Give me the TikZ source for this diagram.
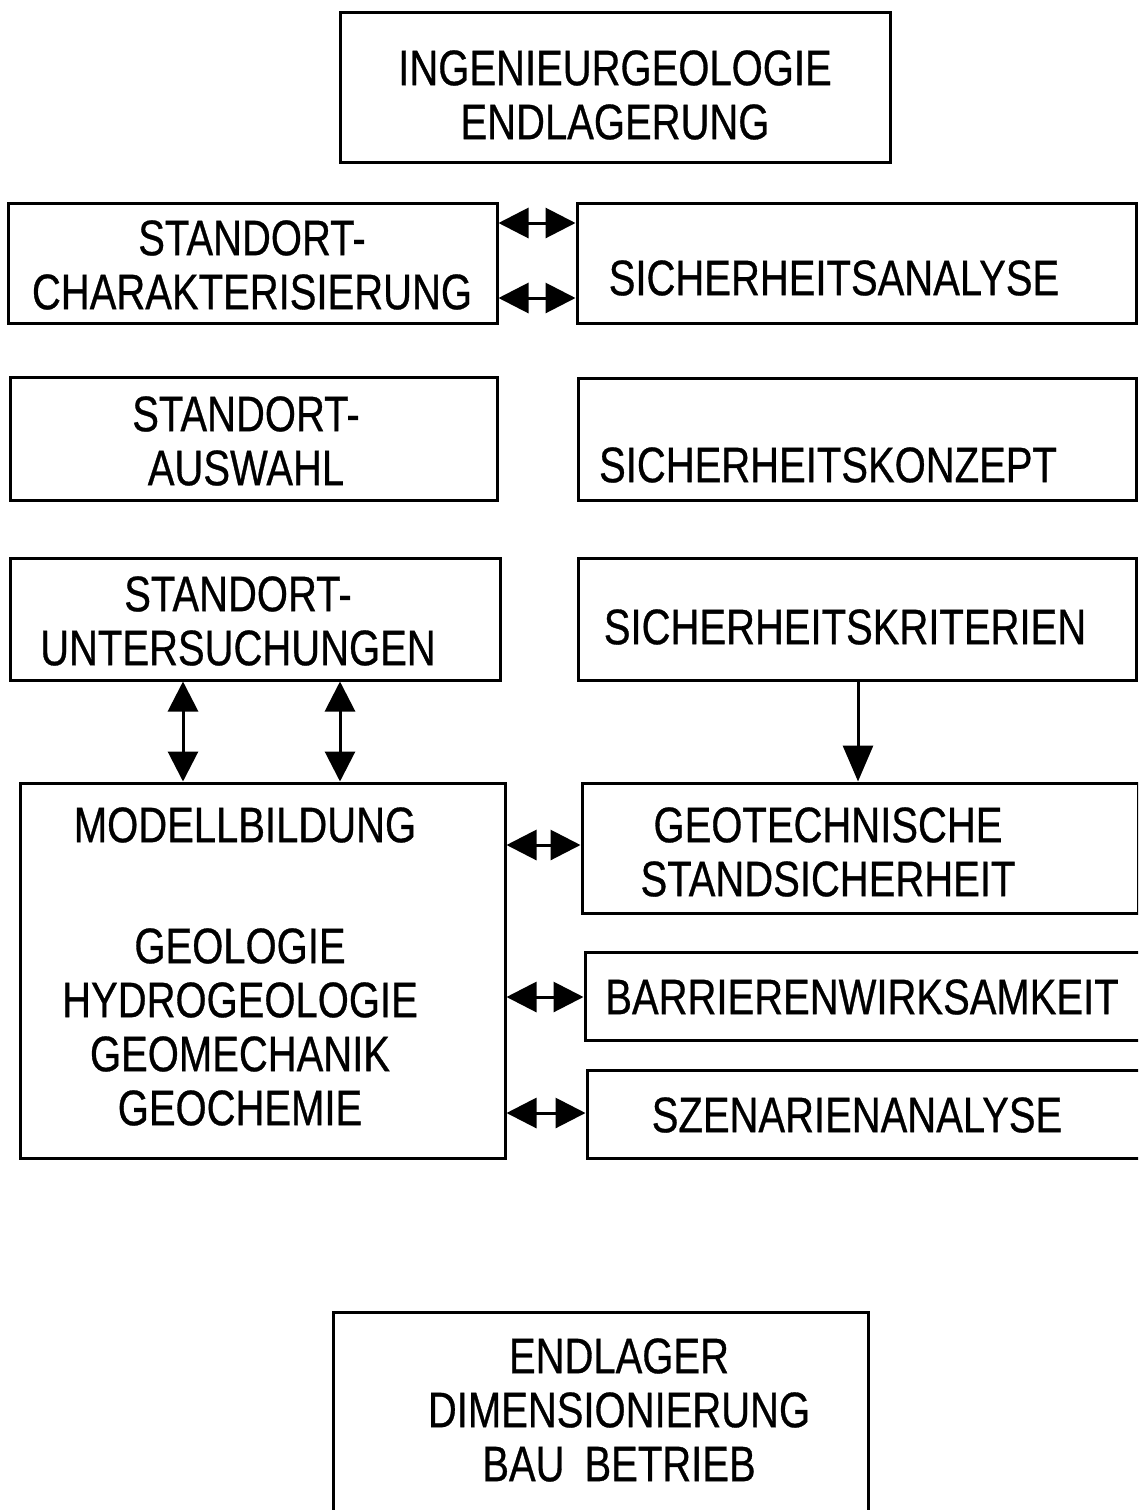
\documentclass[tikz,border=0pt]{standalone}
\usepackage{fontspec}
\setmainfont{Liberation Sans}[FakeStretch=0.8,FakeBold=0.6]
\usetikzlibrary{arrows.meta}
\tikzset{
  box/.style={draw, line width=3pt, rectangle, inner sep=0pt},
  lbl/.style={align=center, inner sep=0pt, font=\fontsize{50}{54}\selectfont},
  dbl/.style={line width=3pt, {Triangle[length=30pt,width=30pt]}-{Triangle[length=30pt,width=30pt]}},
  sgl/.style={line width=3pt, -{Triangle[length=36pt,width=30pt]}}
}
\begin{document}
\begin{tikzpicture}[x=1pt,y=-1pt]
\useasboundingbox (0,0) rectangle (1138,1510);
\fill[white] (0,0) rectangle (1138,1510);
\clip (0,0) rectangle (1138,1510);

% boxes
\node[box, minimum width=550pt, minimum height=150pt] (top) at (615,87) {};
\node[box, minimum width=489pt, minimum height=120pt] (charak) at (252.5,263) {};
\node[box, minimum width=559pt, minimum height=120pt] (sanalyse) at (856.5,263) {};
\node[box, minimum width=487pt, minimum height=123pt] (auswahl) at (253.5,438.5) {};
\node[box, minimum width=558pt, minimum height=122pt] (skonzept) at (857,439) {};
\node[box, minimum width=490pt, minimum height=122pt] (untersuch) at (255,619) {};
\node[box, minimum width=558pt, minimum height=122pt] (skrit) at (857,619) {};
\node[box, minimum width=485pt, minimum height=375pt] (modell) at (262.5,970.5) {};
\node[box, minimum width=556pt, minimum height=130pt] (geotech) at (860,848) {};
\node[box, minimum width=560pt, minimum height=88pt] (barrieren) at (865,996) {};
\node[box, minimum width=560pt, minimum height=88pt] (szenarien) at (867,1114) {};
\node[box, minimum width=535pt, minimum height=218pt] (endlager) at (600.5,1421) {};

% labels
\node[lbl] (topT) at (615,95) {INGENIEURGEOLOGIE\\ENDLAGERUNG};
\node[lbl] (charakT) at (252,265) {STANDORT-\\CHARAKTERISIERUNG};
\node[lbl] (sanalyseT) at (834,278) {SICHERHEITSANALYSE};
\node[lbl] (auswahlT) at (246,441) {STANDORT-\\AUSWAHL};
\node[lbl] (skonzeptT) at (828,465) {SICHERHEITSKONZEPT};
\node[lbl] (untersuchT) at (238,621) {STANDORT-\\UNTERSUCHUNGEN};
\node[lbl] (skritT) at (845,627) {SICHERHEITSKRITERIEN};
\node[lbl] (modellT) at (245,825) {MODELLBILDUNG};
\node[lbl] (modellL) at (240,1027) {GEOLOGIE\\HYDROGEOLOGIE\\GEOMECHANIK\\GEOCHEMIE};
\node[lbl] (geotechT) at (828,852) {GEOTECHNISCHE\\STANDSICHERHEIT};
\node[lbl] (barrierenT) at (862,997) {BARRIERENWIRKSAMKEIT};
\node[lbl] (szenarienT) at (857,1115) {SZENARIENANALYSE};
\node[lbl] (endlagerT) at (619,1410) {ENDLAGER\\DIMENSIONIERUNG\\BAU\hspace{20pt}BETRIEB};

% connector levels
\coordinate (h1) at (0,223);
\coordinate (h2) at (0,298);
\coordinate (v1) at (183,0);
\coordinate (v2) at (340,0);
\coordinate (v3) at (858,0);
\coordinate (h3) at (0,845);
\coordinate (h4) at (0,997);
\coordinate (h5) at (0,1113);

\draw[dbl] (charak.east |- h1) -- (sanalyse.west |- h1);
\draw[dbl] (charak.east |- h2) -- (sanalyse.west |- h2);
\draw[dbl] (untersuch.south -| v1) -- (modell.north -| v1);
\draw[dbl] (untersuch.south -| v2) -- (modell.north -| v2);
\draw[sgl] (skrit.south -| v3) -- (geotech.north -| v3);
\draw[dbl] (modell.east |- h3) -- (geotech.west |- h3);
\draw[dbl] (modell.east |- h4) -- (barrieren.west |- h4);
\draw[dbl] (modell.east |- h5) -- (szenarien.west |- h5);
\end{tikzpicture}
\end{document}
